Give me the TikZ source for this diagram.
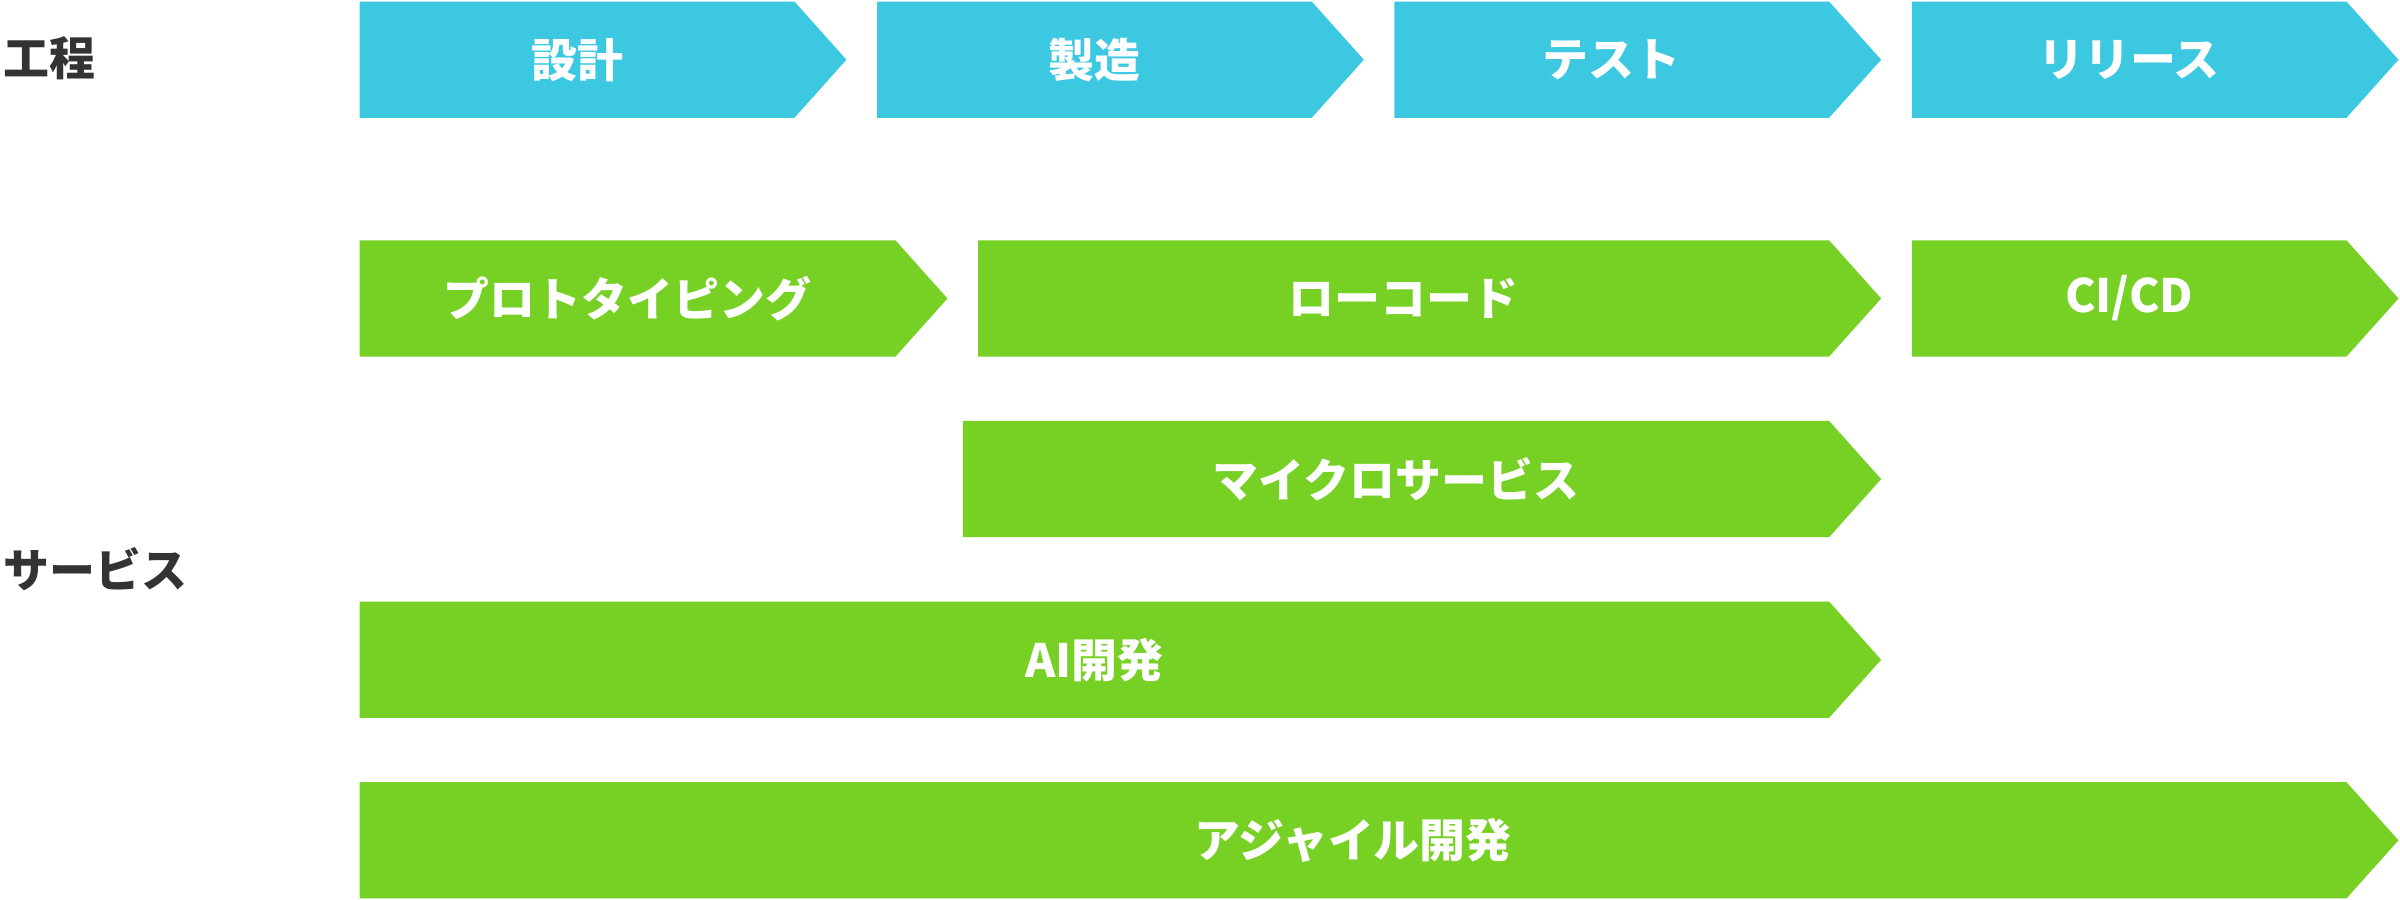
\documentclass[tikz,border=0pt]{standalone}
\usepackage{fontspec}
\setmainfont{Noto Sans CJK JP}
\definecolor{pblue}{HTML}{3DC8E2}
\definecolor{pgreen}{HTML}{77D024}
\definecolor{ldark}{HTML}{333333}
\tikzset{
  bodybox/.style={inner sep=0pt, font=\fontsize{15}{18}\selectfont\bfseries, text=white},
  sidelabel/.style={anchor=west, inner sep=0pt, font=\fontsize{15}{18}\selectfont\bfseries, text=ldark}
}
% #1 name, #2 x0, #3 xbody end, #4 ytop, #5 color, #6 text
\newcommand{\arrowbar}[6]{%
  \fill[#5] (#2,-#4) -- (#3,-#4) -- ({#3+34},{-#4-38}) -- (#3,{-#4-76}) -- (#2,{-#4-76}) -- cycle;
  \node[bodybox] (#1) at ({(#2+#3)/2},{-#4-38}) {#6};
}
\begin{document}
\begin{tikzpicture}[x=0.5pt,y=0.5pt]
\useasboundingbox (0,0) rectangle (1568,-588);
\node[sidelabel] (l1) at (2,-38) {工程};
\node[sidelabel] (l2) at (2,-372) {サービス};
\arrowbar{a1}{235}{519}{1}{pblue}{設計}
\arrowbar{a2}{573}{857}{1}{pblue}{製造}
\arrowbar{a3}{911}{1195}{1}{pblue}{テスト}
\arrowbar{a4}{1249}{1533}{1}{pblue}{リリース}
\arrowbar{b1}{235}{585}{157}{pgreen}{プロトタイピング}
\arrowbar{b2}{639}{1195}{157}{pgreen}{ローコード}
\arrowbar{b3}{1249}{1533}{157}{pgreen}{CI/CD}
\arrowbar{c1}{629}{1195}{275}{pgreen}{マイクロサービス}
\arrowbar{d1}{235}{1195}{393}{pgreen}{AI開発}
\arrowbar{e1}{235}{1533}{511}{pgreen}{アジャイル開発}
\end{tikzpicture}
\end{document}
